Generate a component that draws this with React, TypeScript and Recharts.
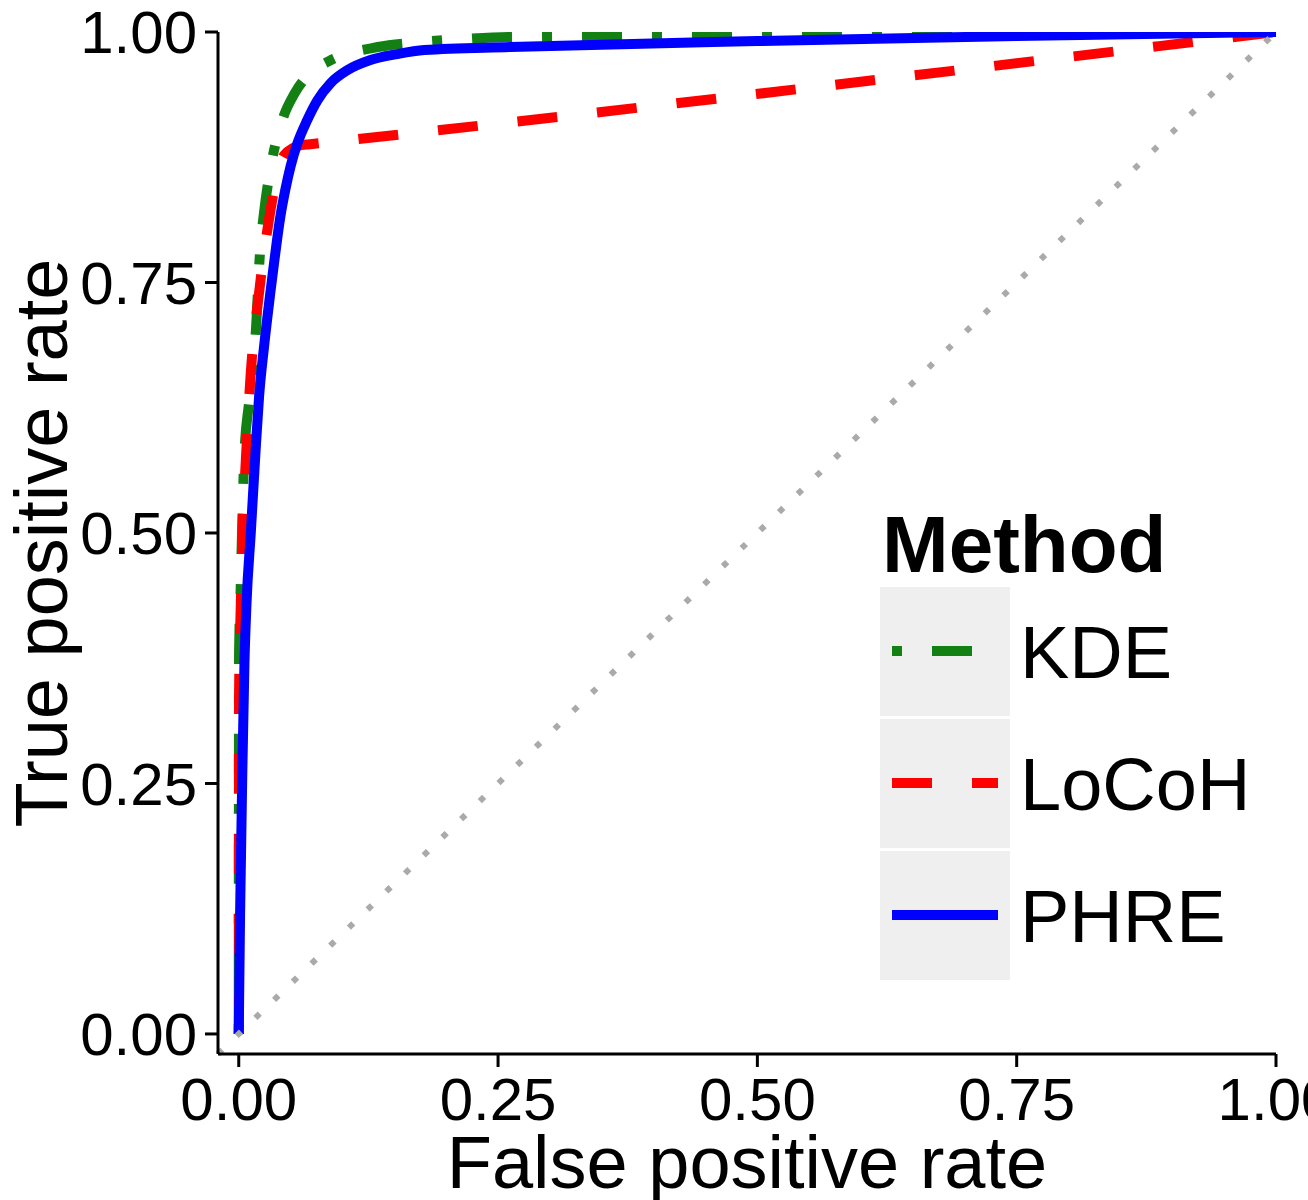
import { LineChart, Line, XAxis, YAxis, ReferenceLine, Legend } from "recharts"

// ROC curves
const kdeFpr = [0, 0.0003, 0.002, 0.0036, 0.0055, 0.0099, 0.0164, 0.0205, 0.0244, 0.031, 0.042, 0.054, 0.07, 0.087, 0.134, 0.175, 0.217, 0.26, 0.5, 0.75, 1]
const kdeTpr = [0, 0.38, 0.45, 0.52, 0.58, 0.63, 0.7, 0.78, 0.82, 0.866, 0.912, 0.939, 0.96, 0.971, 0.985, 0.99, 0.993, 0.995, 0.997, 0.998, 1]

const locohFpr = [0, 0.0003, 0.002, 0.0036, 0.0067, 0.0116, 0.0196, 0.029, 0.0437, 0.06, 0.069, 1]
const locohTpr = [0, 0.34, 0.43, 0.5, 0.57, 0.66, 0.74, 0.812, 0.877, 0.887, 0.888, 1]

const phreFpr = [0, 0.0013, 0.0036, 0.0055, 0.0075, 0.0116, 0.0164, 0.0196, 0.0244, 0.03, 0.034, 0.04, 0.045, 0.05, 0.0566, 0.066, 0.076, 0.0886, 0.105, 0.127, 0.153, 0.179, 0.262, 0.5, 0.75, 1]
const phreTpr = [0, 0.12, 0.27, 0.37, 0.43, 0.5, 0.585, 0.636, 0.686, 0.736, 0.769, 0.815, 0.843, 0.866, 0.889, 0.912, 0.932, 0.949, 0.962, 0.972, 0.978, 0.982, 0.985, 0.991, 0.996, 1]

const methods = ["KDE", "LoCoH", "PHRE"]
const colors = ["#138013", "#ff0000", "#0000ff"]
const dashes = ["10 30 40 30", "40 40", undefined]

const ticks = [0, 0.25, 0.5, 0.75, 1]
const domain = [-0.02, 1]

const toPoints = (xs: number[], ys: number[]) => xs.map((x, i) => ({ fpr: x, tpr: ys[i] }))
const series = [toPoints(kdeFpr, kdeTpr), toPoints(locohFpr, locohTpr), toPoints(phreFpr, phreTpr)]

const font = "'Liberation Sans', Arial, sans-serif"

function MethodLegend({ payload }: any) {
  const items = (payload || []).filter((p: any) => methods.includes(p.value))
  return (
    <svg width={430} height={490} style={{ display: "block", fontFamily: font }}>
      <text x={12} y={72} fontSize={80} fontWeight="bold" fill="#000">Method</text>
      {items.map((p: any, i: number) => {
        const idx = methods.indexOf(p.value)
        const top = 87 + i * 132
        const cy = top + 64
        return (
          <g key={p.value}>
            <rect x={10} y={top} width={130} height={129} fill="#efefef" />
            <line x1={22} x2={128} y1={cy} y2={cy} stroke={p.color} strokeWidth={10} strokeDasharray={dashes[idx]} />
            <text x={150} y={cy + 26.5} fontSize={74} fill="#000">{p.value}</text>
          </g>
        )
      })}
    </svg>
  )
}

export default function App() {
  return (
    <div style={{ width: 1308, height: 1200, background: "#fff" }}>
      <style>{`body{margin:0}`}</style>
      <LineChart width={1308} height={1200} margin={{ top: 32, right: 32, left: 0, bottom: 0 }} style={{ fontFamily: font }}>
        <XAxis
          dataKey="fpr"
          type="number"
          domain={domain}
          allowDataOverflow
          ticks={ticks}
          interval={0}
          tickFormatter={(v: number) => v.toFixed(2)}
          height={146}
          tickSize={13}
          tickMargin={10}
          axisLine={{ stroke: "#000", strokeWidth: 3 }}
          tickLine={{ stroke: "#000", strokeWidth: 3 }}
          tick={{ fill: "#000", fontSize: 60 }}
          label={{
            content: ({ viewBox }: any) => (
              <text x={viewBox.x + viewBox.width / 2} y={viewBox.y + 134} textAnchor="middle" fontSize={74} fill="#000" fontFamily={font}>
                False positive rate
              </text>
            ),
          }}
        />
        <YAxis
          type="number"
          domain={domain}
          allowDataOverflow
          ticks={ticks}
          interval={0}
          tickFormatter={(v: number) => v.toFixed(2)}
          width={218}
          tickSize={13}
          tickMargin={8}
          axisLine={{ stroke: "#000", strokeWidth: 3 }}
          tickLine={{ stroke: "#000", strokeWidth: 3 }}
          tick={{ fill: "#000", fontSize: 60 }}
          label={{
            content: ({ viewBox }: any) => {
              const x = viewBox.x + 67
              const y = viewBox.y + viewBox.height / 2
              return (
                <text x={x} y={y} transform={`rotate(-90, ${x}, ${y})`} textAnchor="middle" fontSize={74} fill="#000" fontFamily={font}>
                  True positive rate
                </text>
              )
            },
          }}
        />
        {methods.map((m, i) => (
          <Line
            key={m}
            name={m}
            data={series[i]}
            dataKey="tpr"
            type="monotone"
            stroke={colors[i]}
            strokeWidth={10}
            strokeDasharray={dashes[i]}
            strokeLinejoin="round"
            dot={false}
            activeDot={false}
            isAnimationActive={false}
          />
        ))}
        <ReferenceLine
          segment={[{ x: domain[0], y: domain[0] }, { x: 1, y: 1 }]}
          stroke="#aaaaaa"
          strokeWidth={6}
          strokeDasharray="6 20"
          ifOverflow="visible"
        />
        <Legend
          layout="vertical"
          align="center"
          verticalAlign="middle"
          content={<MethodLegend />}
          wrapperStyle={{ left: 870, top: 500, width: 430, height: 490 }}
        />
      </LineChart>
    </div>
  )
}
